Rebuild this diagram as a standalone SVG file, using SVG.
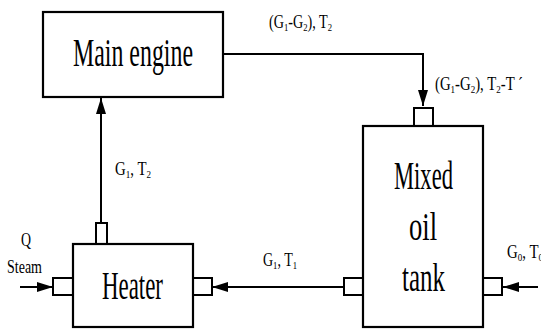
<svg xmlns="http://www.w3.org/2000/svg" width="541" height="329" viewBox="0 0 541 329">
<style>
.box{fill:#fff;stroke:#000;stroke-width:2.2}
.port{fill:#fff;stroke:#000;stroke-width:2}
.ln{fill:none;stroke:#000;stroke-width:2}
.big{font-family:"Liberation Serif",serif;font-size:40px;fill:#000}
.sm{font-family:"Liberation Serif",serif;font-size:18px;fill:#000}
.sub{font-size:11px}
</style>
<defs>
<marker id="ah" markerUnits="userSpaceOnUse" markerWidth="16" markerHeight="10" refX="16" refY="5" orient="auto">
<path d="M0,0 L16,5 L0,10 Z" fill="#000"/>
</marker>
</defs>
<g id="connectors">
<path class="ln" d="M223,54 H423 V106" marker-end="url(#ah)"/>
<path class="ln" d="M101,223 V98" marker-end="url(#ah)"/>
<path class="ln" d="M344,287 H212" marker-end="url(#ah)"/>
<path class="ln" d="M20,287 H53" marker-end="url(#ah)"/>
<path class="ln" d="M538,287 H503" marker-end="url(#ah)"/>
</g>
<g id="main-engine">
<rect class="box" x="43" y="12" width="180" height="85"/>
<text class="big" x="73" y="66" textLength="120" lengthAdjust="spacingAndGlyphs">Main engine</text>
</g>
<g id="heater">
<rect class="port" x="96" y="223" width="11" height="21"/>
<rect class="port" x="53" y="278" width="20" height="17"/>
<rect class="port" x="193" y="278" width="19" height="17"/>
<rect class="box" x="73" y="244" width="120" height="83"/>
<text class="big" x="102" y="299" textLength="61" lengthAdjust="spacingAndGlyphs">Heater</text>
</g>
<g id="tank">
<rect class="port" x="414" y="108" width="19" height="18"/>
<rect class="port" x="344" y="278" width="19" height="17"/>
<rect class="port" x="483" y="278" width="19" height="17"/>
<rect class="box" x="363" y="126" width="120" height="201"/>
<text class="big" x="394" y="189" textLength="59" lengthAdjust="spacingAndGlyphs">Mixed</text>
<text class="big" x="409" y="240" textLength="28" lengthAdjust="spacingAndGlyphs">oil</text>
<text class="big" x="402" y="291" textLength="43" lengthAdjust="spacingAndGlyphs">tank</text>
</g>
<g id="labels">
<text class="sm" x="269" y="28" textLength="63" lengthAdjust="spacingAndGlyphs">(G<tspan class="sub" dy="3">1</tspan><tspan dy="-3">-G</tspan><tspan class="sub" dy="3">2</tspan><tspan dy="-3">), T</tspan><tspan class="sub" dy="3">2</tspan></text>
<text class="sm" x="435" y="90" textLength="88" lengthAdjust="spacingAndGlyphs">(G<tspan class="sub" dy="3">1</tspan><tspan dy="-3">-G</tspan><tspan class="sub" dy="3">2</tspan><tspan dy="-3">), T</tspan><tspan class="sub" dy="3">2</tspan><tspan dy="-3">-T ´</tspan></text>
<text class="sm" x="115" y="175" textLength="36" lengthAdjust="spacingAndGlyphs">G<tspan class="sub" dy="3">1</tspan><tspan dy="-3">, T</tspan><tspan class="sub" dy="3">2</tspan></text>
<text class="sm" x="263" y="266" textLength="34" lengthAdjust="spacingAndGlyphs">G<tspan class="sub" dy="3">1</tspan><tspan dy="-3">, T</tspan><tspan class="sub" dy="3">1</tspan></text>
<text class="sm" x="507" y="258" textLength="36" lengthAdjust="spacingAndGlyphs">G<tspan class="sub" dy="3">0</tspan><tspan dy="-3">, T</tspan><tspan class="sub" dy="3">0</tspan></text>
<text class="sm" x="21" y="246" textLength="10" lengthAdjust="spacingAndGlyphs">Q</text>
<text class="sm" x="7" y="273" textLength="35" lengthAdjust="spacingAndGlyphs">Steam</text>
</g>
</svg>
